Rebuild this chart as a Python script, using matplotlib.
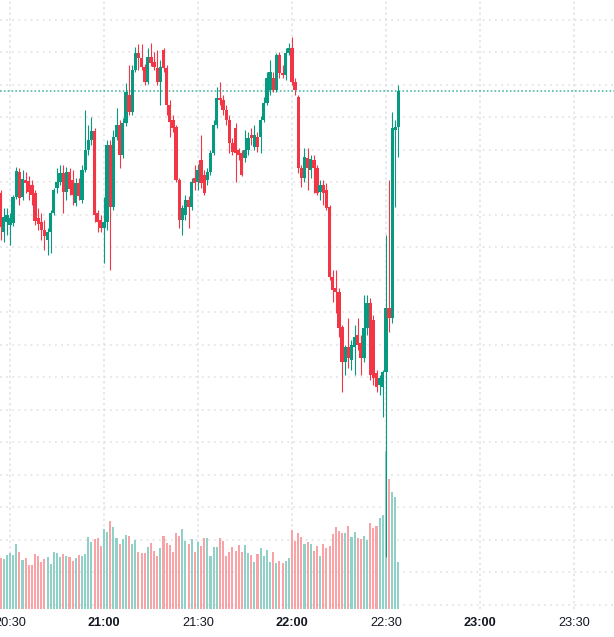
import numpy as np
import matplotlib.pyplot as plt

# minutes counted from 20:30, first bar is 20:27
START = -3

opens = [509, 470, 480, 477, 479, 505, 530, 505, 522, 521, 517, 509, 484, 480, 472, 462,
         470, 489, 514, 520, 529, 510, 530, 522, 499, 519, 502, 532, 552, 562, 571, 489,
         482, 474, 480, 557, 495, 565, 577, 547, 579, 607, 590, 632, 649, 644, 635, 620,
         645, 640, 634, 620, 652, 634, 597, 582, 575, 522, 482, 487, 502, 495, 524, 520,
         542, 527, 522, 530, 549, 577, 604, 602, 592, 582, 559, 574, 552, 549, 544, 552,
         567, 555, 565, 565, 582, 599, 612, 624, 612, 647, 629, 627, 649, 654, 620, 605,
         534, 524, 544, 532, 542, 534, 510, 517, 512, 495, 425, 414, 410, 375, 340, 355,
         342, 355, 367, 359, 344, 374, 399, 382, 329, 317, 315, 330, 394, 384, 572, 575]
highs = [512, 494, 494, 489, 507, 535, 534, 532, 530, 526, 522, 512, 494, 489, 482, 474,
         492, 514, 534, 537, 537, 535, 534, 532, 524, 524, 537, 592, 577, 585, 574, 492,
         487, 505, 562, 562, 572, 594, 582, 584, 619, 637, 637, 655, 658, 658, 638, 654,
         659, 650, 652, 642, 654, 637, 602, 587, 577, 524, 497, 507, 506, 524, 537, 538,
         567, 532, 534, 552, 582, 615, 620, 607, 597, 587, 564, 579, 554, 552, 572, 570,
         574, 577, 570, 586, 605, 630, 642, 630, 649, 650, 637, 654, 659, 665, 624, 607,
         537, 554, 554, 547, 547, 537, 522, 522, 519, 497, 432, 432, 414, 377, 357, 384,
         362, 377, 384, 367, 407, 407, 404, 387, 332, 327, 332, 467, 522, 590, 582, 617]
lows = [462, 460, 467, 457, 476, 503, 497, 502, 509, 502, 497, 477, 472, 462, 452, 447,
        449, 487, 509, 517, 489, 502, 507, 497, 496, 502, 499, 530, 547, 557, 480, 470,
        470, 439, 472, 432, 492, 562, 534, 544, 576, 587, 587, 630, 632, 632, 617, 618,
        636, 632, 617, 597, 630, 587, 565, 570, 520, 474, 467, 482, 474, 492, 512, 512,
        514, 507, 517, 527, 547, 574, 597, 587, 577, 549, 547, 520, 542, 526, 540, 547,
        557, 552, 550, 549, 580, 597, 607, 610, 610, 624, 624, 622, 647, 617, 607, 529,
        515, 520, 512, 524, 509, 507, 502, 497, 492, 422, 400, 389, 365, 310, 327, 334,
        332, 327, 352, 327, 340, 367, 322, 317, 310, 307, 285, 145, 370, 379, 495, 545]
closes = [475, 485, 487, 484, 505, 531, 504, 523, 519, 510, 507, 481, 478, 472, 466, 470,
          489, 512, 520, 529, 510, 530, 513, 507, 519, 506, 532, 552, 562, 571, 487, 480,
          474, 480, 557, 495, 565, 577, 547, 579, 610, 590, 632, 649, 644, 635, 620, 645,
          639, 635, 620, 635, 634, 597, 580, 574, 522, 482, 494, 502, 495, 520, 519, 532,
          519, 509, 530, 549, 577, 604, 602, 592, 582, 559, 550, 549, 547, 527, 552, 564,
          564, 567, 555, 582, 599, 624, 630, 612, 647, 629, 627, 649, 654, 620, 612, 534,
          524, 545, 534, 543, 534, 509, 517, 509, 494, 425, 412, 410, 374, 340, 355, 344,
          357, 365, 357, 344, 374, 399, 327, 324, 315, 324, 330, 394, 384, 574, 575, 611]
volumes = [51, 50, 54, 56, 54, 65, 57, 49, 51, 44, 44, 55, 53, 47, 50, 52,
           45, 57, 56, 52, 55, 53, 52, 48, 51, 54, 53, 55, 72, 67, 70, 71,
           63, 80, 77, 88, 82, 71, 65, 70, 74, 73, 65, 69, 57, 56, 56, 62,
           66, 58, 53, 61, 73, 66, 64, 57, 76, 73, 80, 68, 65, 70, 57, 67,
           63, 71, 71, 53, 62, 62, 71, 68, 53, 57, 62, 58, 64, 57, 64, 56,
           54, 47, 55, 61, 53, 59, 47, 57, 46, 48, 46, 48, 51, 79, 68, 76,
           72, 65, 67, 65, 58, 63, 53, 65, 61, 63, 75, 82, 78, 76, 76, 83,
           72, 77, 71, 70, 73, 69, 86, 81, 83, 91, 94, 158, 130, 117, 112, 47]

tick_minutes = [0, 30, 60, 90, 120, 150, 180]
tick_labels = ["20:30", "21:00", "21:30", "22:00", "22:30", "23:00", "23:30"]

UP = "#089981"
DOWN = "#f23645"
UP_VOL = "#8fd1c6"
DOWN_VOL = "#f9a3a6"
GRID = "#dfe1e6"

o = np.array(opens)
h = np.array(highs)
l = np.array(lows)
c = np.array(closes)
x = np.arange(len(o)) + START
up = c >= o

fig = plt.figure(figsize=(6.14, 6.37), dpi=100)
rect = [0, 28 / 637, 1, 609 / 637]
axg = fig.add_axes(rect)
axv = fig.add_axes(rect, sharex=axg)
ax = fig.add_axes(rect, sharex=axg, sharey=axg)
for a in (axv, ax):
    a.patch.set_visible(False)
    a.axis("off")

axg.set_xlim(-3.19, 192.8)
axg.set_ylim(93, 702)
axv.set_ylim(0, 609)

# grid
axg.set_yticks(np.arange(97.5, 700, 32.5))
axg.set_xticks(tick_minutes)
axg.set_xticklabels(tick_labels)
axg.grid(axis="y", color=GRID, linestyle=(0, (1.2, 2.8)), linewidth=1.1)
axg.grid(axis="x", color=GRID, linestyle=(0, (1.6, 2.0)), linewidth=1.1)
axg.tick_params(length=0, labelleft=False, pad=6, labelsize=9.2, labelcolor="#131722")
for lab, txt in zip(axg.get_xticklabels(), tick_labels):
    lab.set_family("Liberation Sans")
    if txt.endswith(":00"):
        lab.set_fontweight("bold")
for s in axg.spines.values():
    s.set_visible(False)

# volume
axv.bar(x, volumes, width=0.66, color=np.where(up, UP_VOL, DOWN_VOL), linewidth=0)

# last price line
ax.axhline(closes[-1], color=UP, linestyle=(0, (1, 1.3)), linewidth=1.2, alpha=0.7, zorder=1)

# candles
cols = np.where(up, UP, DOWN)
ax.vlines(x, l, h, colors=cols, linewidth=0.8, zorder=2)
body_lo = np.minimum(o, c)
body_h = np.maximum(np.abs(c - o), 1.5)
ax.bar(x, body_h, bottom=body_lo, width=1.05, color=cols, linewidth=0, zorder=3)

fig.savefig("out.png", dpi=100, facecolor="white")
